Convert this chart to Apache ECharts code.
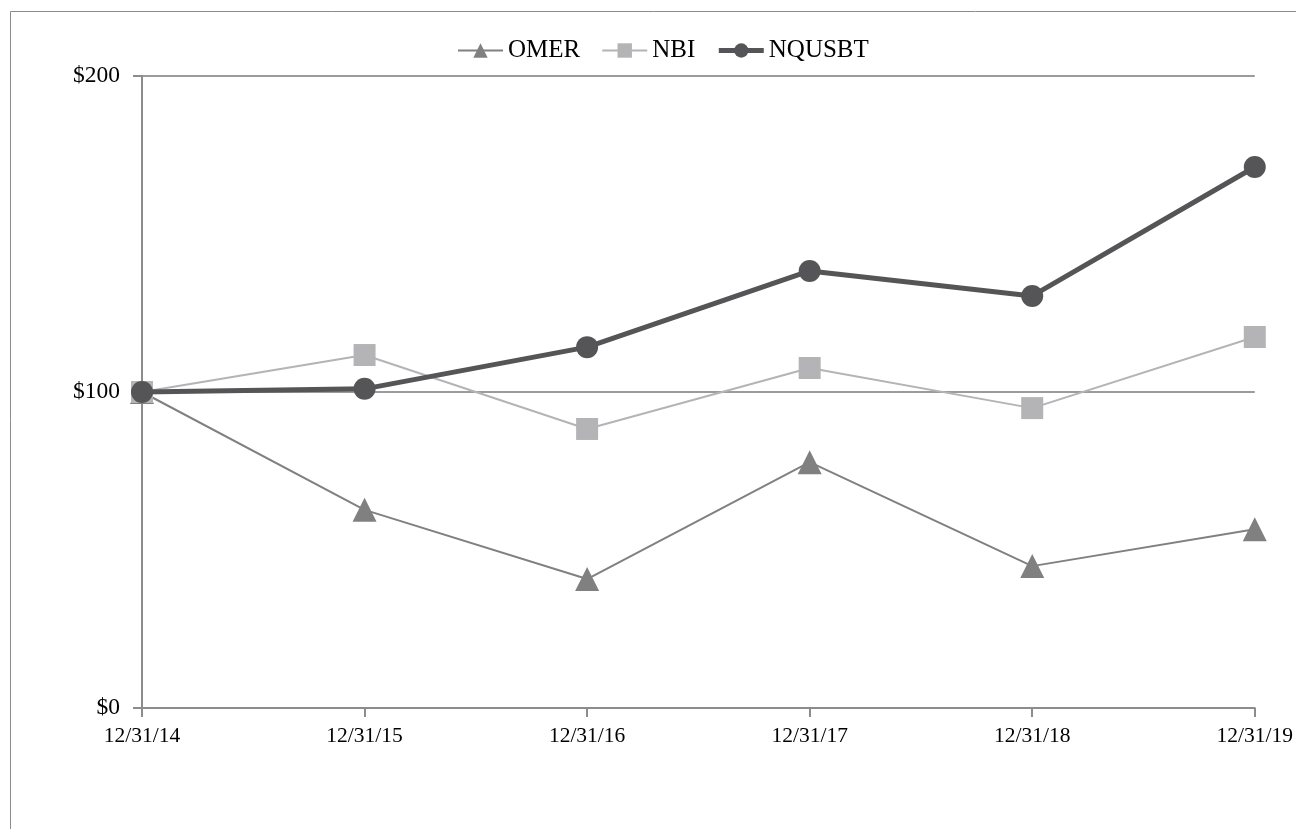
<!DOCTYPE html>
<html>
<head>
<meta charset="utf-8">
<script src="https://cdn.jsdelivr.net/npm/echarts@6/dist/echarts.min.js"></script>
<style>html,body{margin:0;padding:0;background:#fff;}#c{width:1296px;height:829px;}</style>
</head>
<body>
<div id="c"></div>
<script>
var categories = ['12/31/14','12/31/15','12/31/16','12/31/17','12/31/18','12/31/19'];
var omer = [100, 62.7, 40.8, 77.8, 44.9, 56.6];
var nbi = [100, 111.7, 88.3, 107.6, 94.9, 117.4];
var nqusbt = [100, 101, 114.2, 138.3, 130.4, 171.2];
var yTicks = [0, 100, 200];

var font = 'Liberation Serif';
var chart = echarts.init(document.getElementById('c'));
chart.setOption({
  animation: false,
  graphic: [{
    type: 'rect', shape: {x: 10.5, y: 11.5, width: 1400, height: 1000},
    style: {fill: 'none', stroke: '#8c8c8c', lineWidth: 1}
  }],
  legend: {
    top: 33, left: 452,
    itemWidth: 45, itemHeight: 18, itemGap: 21,
    textStyle: {fontFamily: font, fontSize: 25, color: '#000'},
    data: [
      {name: 'OMER', lineStyle: {width: 2}},
      {name: 'NBI', lineStyle: {width: 2}},
      {name: 'NQUSBT', lineStyle: {width: 5}}
    ]
  },
  grid: {left: 142, right: 40, top: 76, bottom: 121, containLabel: false},
  xAxis: {
    type: 'category', data: categories, boundaryGap: false,
    axisLine: {lineStyle: {color: '#8c8c8c', width: 2}},
    axisTick: {show: true, alignWithLabel: true, length: 9, lineStyle: {color: '#8c8c8c', width: 2}},
    axisLabel: {fontFamily: font, fontSize: 21.5, color: '#000', margin: 17},
    splitLine: {show: false}
  },
  yAxis: {
    type: 'value', min: 0, max: 200, interval: 100,
    axisLine: {show: true, lineStyle: {color: '#8c8c8c', width: 2}},
    axisTick: {show: true, length: 9, lineStyle: {color: '#8c8c8c', width: 2}},
    axisLabel: {fontFamily: font, fontSize: 23.5, color: '#000', margin: 22,
      formatter: function (v) { return yTicks.indexOf(v) >= 0 ? '$' + v : ''; }},
    splitLine: {show: true, lineStyle: {color: '#7a7a7a', width: 1.5}}
  },
  series: [
    {name: 'OMER', type: 'line', data: omer, symbol: 'triangle', symbolSize: 24,
      lineStyle: {color: '#808080', width: 2}, itemStyle: {color: '#808080'}, z: 2},
    {name: 'NBI', type: 'line', data: nbi, symbol: 'rect', symbolSize: 22,
      lineStyle: {color: '#b4b4b6', width: 2}, itemStyle: {color: '#b4b4b6'}, z: 3},
    {name: 'NQUSBT', type: 'line', data: nqusbt, symbol: 'circle', symbolSize: 22,
      lineStyle: {color: '#555557', width: 5}, itemStyle: {color: '#555557'}, z: 4}
  ]
});
</script>
</body>
</html>
